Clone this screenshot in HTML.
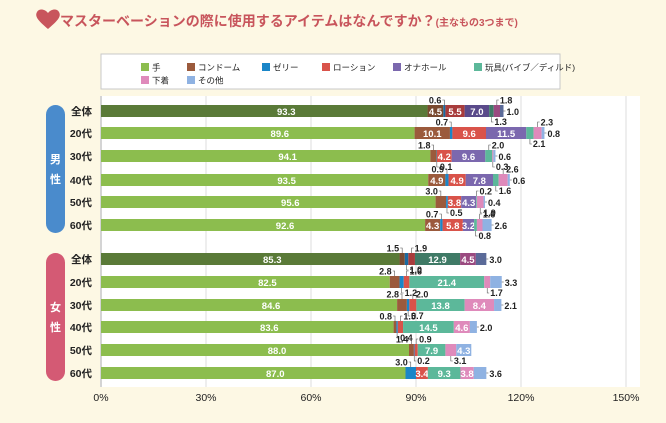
<!DOCTYPE html>
<html><head><meta charset="utf-8">
<style>
body{margin:0;background:#fdf8e4;font-family:"Liberation Sans","Noto Sans CJK JP",sans-serif;}
#wrap{position:relative;width:666px;height:423px;overflow:hidden;background:#fdf8e4;}
</style></head>
<body>
<div id="wrap">
<svg id="svg" width="666" height="423" xmlns="http://www.w3.org/2000/svg">
  <path d="M48 29 C40 22 34 17 37 12 C39 8 45 9 48 13 C51 9 57 8 59 12 C62 17 56 22 48 29Z" fill="#c8555c"/>
  <text x="60" y="26" font-size="14" font-weight="bold" fill="#c8555c" font-family="Liberation Sans, Noto Sans CJK JP, sans-serif">マスターベーションの際に使用するアイテムはなんですか？<tspan font-size="10">(主なもの3つまで)</tspan></text>
  <rect x="101" y="54" width="459" height="35" fill="#fff" stroke="#c8c8c8"/>
  <g id="legend"></g>
  <rect x="100" y="96" width="540" height="291" fill="#fff"/>
  <g id="grid"></g>
  <rect x="46" y="105" width="19" height="128" rx="9.5" fill="#4a8bcc"/>
  <text x="55.5" y="163" font-size="11" font-weight="bold" fill="#fff" text-anchor="middle">男</text>
  <text x="55.5" y="183" font-size="11" font-weight="bold" fill="#fff" text-anchor="middle">性</text>
  <rect x="46" y="253" width="19" height="128" rx="9.5" fill="#d45a74"/>
  <text x="55.5" y="311" font-size="11" font-weight="bold" fill="#fff" text-anchor="middle">女</text>
  <text x="55.5" y="331" font-size="11" font-weight="bold" fill="#fff" text-anchor="middle">性</text>
  <g id="bars"></g>
</svg>
</div>
<script>
const categories = ["全体","20代","30代","40代","50代","60代","全体","20代","30代","40代","50代","60代"];
const seriesNames = ["手","コンドーム","ゼリー","ローション","オナホール","玩具(バイブ／ディルド)","下着","その他"];
const hand      = [93.3,89.6,94.1,93.5,95.6,92.6, 85.3,82.5,84.6,83.6,88.0,87.0];
const condom    = [4.5,10.1,1.8,4.9,3.0,4.3, 1.5,2.8,2.8,0.8,1.4,0];
const gel       = [0.6,0.7,0.1,0.9,0.5,0.7, 1.0,1.2,0.7,0.4,0.2,3.0];
const lotion    = [5.5,9.6,4.2,4.9,3.8,5.8, 1.9,1.6,2.0,1.5,0.9,3.4];
const onahole   = [7.0,11.5,9.6,7.8,4.3,3.2, 0,0,0,0,0,0];
const toy       = [1.3,2.1,2.0,1.6,0.2,0.8, 12.9,21.4,13.8,14.5,7.9,9.3];
const underwear = [1.8,2.3,0.3,2.6,1.9,1.6, 4.5,1.7,8.4,4.6,3.1,3.8];
const other     = [1.0,0.8,0.6,0.6,0.4,2.6, 3.0,3.3,2.1,2.0,4.3,3.6];
const xTicks = [0,30,60,90,120,150];

const series=[hand,condom,gel,lotion,onahole,toy,underwear,other];
const colors=["#8cbd4e","#9b5a3c","#1a86c8","#d9534a","#7b68ae","#5cb89a","#df8abb","#8fb2e2"];
const dark=["#5a7a38","#7a4a30","#1a6aa0","#a83c3c","#5a4a8a","#3f7a66","#9a4a80","#5a6a98"];
const NS="http://www.w3.org/2000/svg";
const x0=101, xs=3.5;
const X=v=>x0+v*xs;
const rowY=[111,133,156,180,202,225, 259,282,305,327,350,373];
function mk(tag,attrs,parent){const e=document.createElementNS(NS,tag);for(const k in attrs)e.setAttribute(k,attrs[k]);parent.appendChild(e);return e;}
const grid=document.getElementById('grid');
xTicks.forEach(t=>{
  const l=mk('line',{x1:X(t),x2:X(t),y1:96,y2:387,stroke:t===0?'#aaa':'#ddd','stroke-width':1},grid);
  
  
  const tx=mk('text',{x:X(t),y:401,'font-size':10.5,'text-anchor':'middle',fill:'#222'},grid);
  tx.textContent=t+'%';
  
  
});
const lg=document.getElementById('legend');
const lpos=[[141,67],[187,67],[262,67],[322,67],[393,67],[474,67],[141,80],[187,80]];
seriesNames.forEach((n,i)=>{
  const r=mk('rect',{x:lpos[i][0],y:lpos[i][1]-4,width:8,height:8,fill:colors[i]},lg);
  
  
  const t=mk('text',{x:lpos[i][0]+11,y:lpos[i][1]+3.5,'font-size':8.5,fill:'#222'},lg);
  t.textContent=n;
  
  
});
const bars=document.getElementById('bars');
categories.forEach((c,r)=>{
  const y=rowY[r], h=12, top=y-6;
  const lab=mk('text',{x:92,y:y+4,'font-size':10.5,'font-weight':'bold','text-anchor':'end',fill:'#222'},bars);
  lab.textContent=c;
  
  
  const pal=(r===0||r===6)?dark:colors;
  let acc=0; let small=[];
  series.forEach((s,i)=>{
    const v=s[r]; if(v<=0) return;
    const rc=mk('rect',{x:X(acc),y:top,width:v*xs,height:h,fill:pal[i]},bars);
    
    
    const mid=X(acc+v/2);
    const inside = (i===7) ? v>=4 : v>=3.2;
    if(inside){
      const t=mk('text',{x:i===0?X(v/2)+22:mid,y:y+4,'font-size':9.5,'font-weight':'bold','text-anchor':'middle',fill:'#fff'},bars);
      t.textContent=v.toFixed(1);
      
      
    } else small.push({v,mid,end:X(acc+v)});
    acc+=v;
  });
  small.forEach((s,k)=>{
    const last=k===small.length-1 && s.end>=X(acc)-0.5;
    let lx,ly,anchor;
    if(last){lx=X(acc)+3;ly=y+4;anchor='start';mk('line',{x1:X(acc),x2:X(acc)+2,y1:y,y2:y,stroke:'#555','stroke-width':0.6},bars);}
    else if(k%2===0){anchor=(k===0?'end':'start');
      mk('polyline',{points:`${s.mid},${top} ${s.mid},${top-5} ${s.mid+(anchor==='end'?-2:2)},${top-5}`,fill:'none',stroke:'#555','stroke-width':0.6},bars);
      lx=s.mid+(anchor==='end'?-3:3);ly=top-1.5;}
    else {anchor='start';lx=s.mid+3;ly=top+h+8;
      mk('polyline',{points:`${s.mid},${top+h} ${s.mid},${top+h+5} ${s.mid+2},${top+h+5}`,fill:'none',stroke:'#555','stroke-width':0.6},bars);}
    const t=mk('text',{x:lx,y:ly,'font-size':9,'font-weight':'bold','text-anchor':anchor,fill:'#222'},bars);
    t.textContent=s.v.toFixed(1);
    
    
  });
});
</script>
</body></html>
